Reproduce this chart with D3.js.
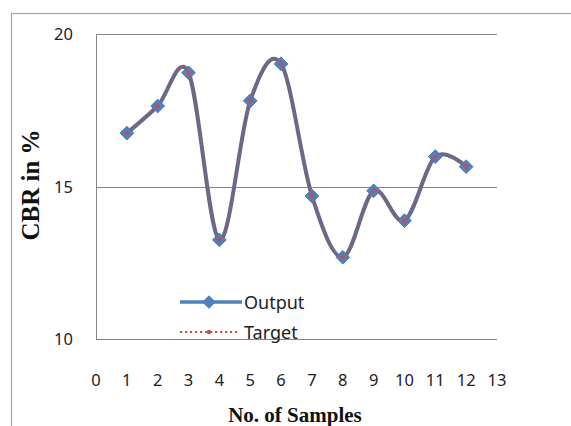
<!DOCTYPE html>
<html>
<head>
<meta charset="utf-8">
<script src="https://cdn.jsdelivr.net/npm/d3@7"></script>
<style>
  body { margin: 0; background: #fff; }
  svg { display: block; }
</style>
</head>
<body>
<script>
// values
var samples = [1, 2, 3, 4, 5, 6, 7, 8, 9, 10, 11, 12];
var output = [16.75, 17.64, 18.73, 13.25, 17.81, 19.02, 14.69, 12.68, 14.86, 13.88, 15.98, 15.65];
var target = [16.75, 17.64, 18.73, 13.25, 17.81, 19.02, 14.69, 12.68, 14.86, 13.88, 15.98, 15.65];
var xTicks = [0, 1, 2, 3, 4, 5, 6, 7, 8, 9, 10, 11, 12, 13];
var yTicks = [10, 15, 20];

var width = 571, height = 426;
var svg = d3.select("body").append("svg")
    .attr("width", width)
    .attr("height", height);

// outer chart border
svg.append("rect")
    .attr("x", 11.5).attr("y", 13.5)
    .attr("width", 570).attr("height", 430)
    .attr("fill", "none")
    .attr("stroke", "#a6a6a6")
    .attr("stroke-width", 1.2);

var x = d3.scaleLinear().domain([0, 13]).range([96, 497]);
var y = d3.scaleLinear().domain([10, 20]).range([339, 34]);

// gridlines
svg.append("g").selectAll("line")
    .data(yTicks)
    .enter().append("line")
    .attr("x1", x(0)).attr("x2", x(13))
    .attr("y1", function (d) { return Math.round(y(d)) + 0.5; })
    .attr("y2", function (d) { return Math.round(y(d)) + 0.5; })
    .attr("stroke", "#868686")
    .attr("stroke-width", 1);

// left axis line
svg.append("line")
    .attr("x1", x(0) + 0.5).attr("x2", x(0) + 0.5)
    .attr("y1", y(20)).attr("y2", y(10))
    .attr("stroke", "#868686");

// y tick labels
svg.append("g").selectAll("text")
    .data(yTicks)
    .enter().append("text")
    .attr("x", 73)
    .attr("y", function (d) { return y(d) + 6; })
    .attr("text-anchor", "end")
    .attr("font-family", "'Noto Sans', sans-serif")
    .attr("font-size", 16.5)
    .attr("fill", "#222")
    .text(function (d) { return d; });

// x tick labels
svg.append("g").selectAll("text")
    .data(xTicks)
    .enter().append("text")
    .attr("x", function (d) { return x(d); })
    .attr("y", 386)
    .attr("text-anchor", "middle")
    .attr("font-family", "'Noto Sans', sans-serif")
    .attr("font-size", 16.5)
    .attr("fill", "#222")
    .text(function (d) { return d; });

// axis titles
svg.append("text")
    .attr("transform", "translate(39,185) rotate(-90)")
    .attr("text-anchor", "middle")
    .attr("font-family", "'Liberation Serif', serif")
    .attr("font-weight", "bold")
    .attr("font-size", 25)
    .attr("fill", "#111")
    .text("CBR in %");

svg.append("text")
    .attr("x", 295)
    .attr("y", 422)
    .attr("text-anchor", "middle")
    .attr("font-family", "'Liberation Serif', serif")
    .attr("font-weight", "bold")
    .attr("font-size", 21)
    .attr("fill", "#111")
    .text("No. of Samples");

var line = d3.line()
    .x(function (d) { return x(d[0]); })
    .y(function (d) { return y(d[1]); })
    .curve(d3.curveCardinal.tension(0));

var outData = samples.map(function (s, i) { return [s, output[i]]; });
var tgtData = samples.map(function (s, i) { return [s, target[i]]; });

var diamond = d3.symbol().type(d3.symbolDiamond2).size(120);

// output series
svg.append("path")
    .datum(outData)
    .attr("d", line)
    .attr("fill", "none")
    .attr("stroke", "#5b6d92")
    .attr("stroke-width", 4);

svg.append("g").selectAll("path")
    .data(outData)
    .enter().append("path")
    .attr("d", diamond)
    .attr("transform", function (d) { return "translate(" + x(d[0]) + "," + y(d[1]) + ")"; })
    .attr("fill", "#4f81bd")
    .attr("stroke", "#4a7ab5");

// target series (dotted on top)
svg.append("path")
    .datum(tgtData)
    .attr("d", line)
    .attr("fill", "none")
    .attr("stroke", "#b8505a")
    .attr("stroke-width", 2)
    .attr("stroke-dasharray", "2,2.6")
    .attr("opacity", 0.9);

svg.append("g").selectAll("circle")
    .data(tgtData)
    .enter().append("circle")
    .attr("cx", function (d) { return x(d[0]); })
    .attr("cy", function (d) { return y(d[1]); })
    .attr("r", 2.4)
    .attr("fill", "#b8505a")
    .attr("opacity", 0.85);

// legend
var legend = svg.append("g");
legend.append("line")
    .attr("x1", 180).attr("x2", 242)
    .attr("y1", 302).attr("y2", 302)
    .attr("stroke", "#4f81bd")
    .attr("stroke-width", 3.5);
legend.append("path")
    .attr("d", diamond)
    .attr("transform", "translate(209,302)")
    .attr("fill", "#4f81bd");
legend.append("text")
    .attr("x", 244).attr("y", 309)
    .attr("font-family", "'Noto Sans', sans-serif")
    .attr("font-size", 18)
    .attr("fill", "#222")
    .text("Output");

legend.append("line")
    .attr("x1", 180).attr("x2", 240)
    .attr("y1", 332).attr("y2", 332)
    .attr("stroke", "#c0504d")
    .attr("stroke-width", 2.2)
    .attr("stroke-dasharray", "2.2,2.8");
legend.append("circle")
    .attr("cx", 209).attr("cy", 332).attr("r", 2.2)
    .attr("fill", "#c0504d");
legend.append("text")
    .attr("x", 244).attr("y", 339)
    .attr("font-family", "'Noto Sans', sans-serif")
    .attr("font-size", 18)
    .attr("fill", "#222")
    .text("Target");
</script>
</body>
</html>
